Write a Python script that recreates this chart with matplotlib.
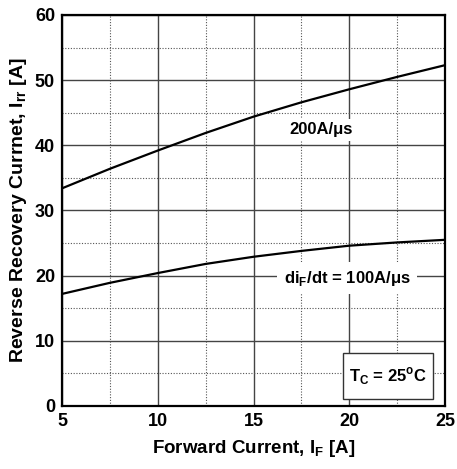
import matplotlib.pyplot as plt
from matplotlib.patches import Rectangle
import numpy as np

plt.rcParams['font.family'] = ['Liberation Sans', 'DejaVu Sans']
plt.rcParams['font.weight'] = 'bold'
plt.rcParams['mathtext.fontset'] = 'custom'
plt.rcParams['mathtext.rm'] = 'Liberation Sans:bold'
plt.rcParams['mathtext.bf'] = 'Liberation Sans:bold'

# forward current [A]
i_f = [5, 7.5, 10, 12.5, 15, 17.5, 20, 22.5, 25]
# reverse recovery current [A]
irr_200 = [33.4, 36.4, 39.2, 41.9, 44.4, 46.6, 48.6, 50.5, 52.3]
irr_100 = [17.2, 18.9, 20.4, 21.8, 22.9, 23.8, 24.6, 25.1, 25.5]

fig = plt.figure(figsize=(4.57, 4.69), dpi=100)
ax = fig.add_axes([62/457, 1 - 406/469, 383/457, 391/469])

ax.plot(i_f, irr_200, color='black', lw=1.6)
ax.plot(i_f, irr_100, color='black', lw=1.6)

ax.set_xlim(5, 25)
ax.set_ylim(0, 60)
ax.set_xticks([5, 10, 15, 20, 25])
ax.set_yticks(np.arange(0, 61, 10))
ax.set_xticks(np.arange(7.5, 25, 5), minor=True)
ax.set_yticks(np.arange(5, 60, 10), minor=True)
ax.grid(True, which='major', color='#444444', lw=1.0, ls='-')
ax.grid(True, which='minor', color='#555555', lw=0.8, ls=(0, (1, 1.5)))
ax.tick_params(which='both', length=0, labelsize=13, pad=5)
for lbl in ax.get_xticklabels() + ax.get_yticklabels():
    lbl.set_fontweight('bold')
for s in ax.spines.values():
    s.set_linewidth(1.6)

ax.set_xlabel('Forward Current, I$_\\mathrm{F}$ [A]', fontsize=13.5, fontweight='bold', labelpad=6)
ax.set_ylabel('Reverse Recovery Currnet, I$_\\mathrm{rr}$ [A]', fontsize=14, fontweight='bold', labelpad=4)

ax.text(18.55, 42.4, '200A/\u03bcs', fontsize=12, fontweight='bold',
        ha='center', va='center',
        bbox=dict(facecolor='white', edgecolor='none', boxstyle='square', pad=0.2))
ax.text(19.9, 19.6, 'di$_\\mathrm{F}$/dt = 100A/\u03bcs', fontsize=12, fontweight='bold',
        ha='center', va='center',
        bbox=dict(facecolor='white', edgecolor='none', boxstyle='square', pad=0.4))

# temperature box
ax.add_patch(Rectangle((0.734, 0.018), 0.235, 0.118, transform=ax.transAxes,
                       facecolor='white', edgecolor='#333333', lw=1.0, zorder=3))
ax.text(0.851, 0.077, 'T$_\\mathrm{C}$ = 25$^\\mathrm{o}$C', transform=ax.transAxes,
        fontsize=12, fontweight='bold', ha='center', va='center', zorder=4)

fig.savefig('out.png', dpi=100)
